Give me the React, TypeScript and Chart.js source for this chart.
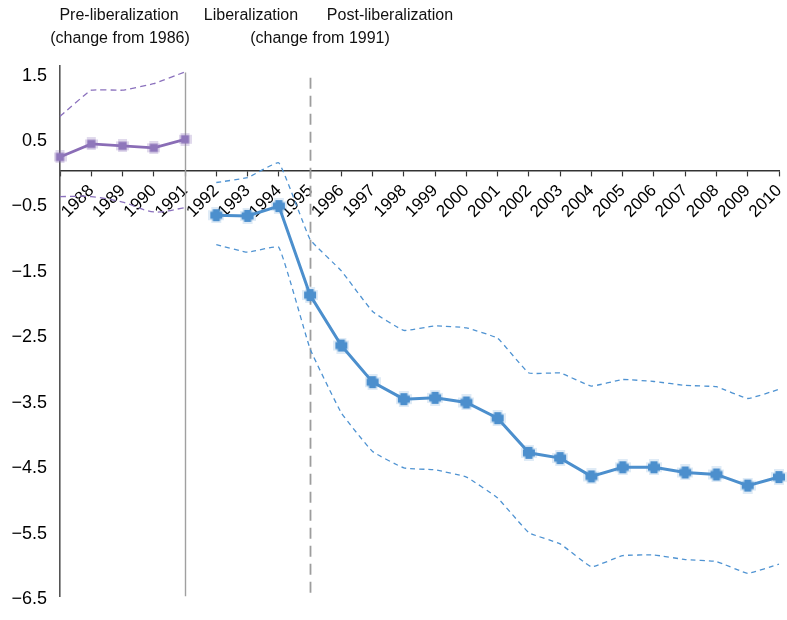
import React, { useEffect, useRef } from 'react';
import { Chart, registerables } from 'chart.js';

Chart.register(...registerables);

// ---------- data ----------
const YEARS = [
  '1987', '1988', '1989', '1990', '1991', '1992', '1993', '1994', '1995', '1996', '1997', '1998',
  '1999', '2000', '2001', '2002', '2003', '2004', '2005', '2006', '2007', '2008', '2009', '2010',
];

// Pre-liberalization (1987–1991), change from 1986
const PRE_EST = [0.21, 0.41, 0.38, 0.35, 0.48];
const PRE_UPPER = [0.83, 1.23, 1.23, 1.33, 1.51];
const PRE_LOWER = [-0.395, -0.395, -0.48, -0.63, -0.565];

// Liberalization & post-liberalization (1992–2010), change from 1991
const POST_EST = [
  -0.68, -0.69, -0.54, -1.9, -2.67, -3.23, -3.49, -3.47, -3.54, -3.78,
  -4.31, -4.39, -4.67, -4.53, -4.53, -4.61, -4.64, -4.81, -4.68,
];
const POST_UPPER = [
  -0.18, -0.105, 0.12, -1.05, -1.53, -2.15, -2.44, -2.37, -2.4, -2.56,
  -3.09, -3.09, -3.29, -3.19, -3.22, -3.28, -3.3, -3.48, -3.34,
];
const POST_LOWER = [
  -1.13, -1.245, -1.17, -2.72, -3.7, -4.29, -4.54, -4.57, -4.68, -5.0,
  -5.53, -5.7, -6.05, -5.88, -5.87, -5.94, -5.97, -6.15, -6.01,
];

const Y_TICKS = [1.5, 0.5, -0.5, -1.5, -2.5, -3.5, -4.5, -5.5, -6.5];

const PERIOD_LABELS = ['Pre-liberalization', 'Liberalization', 'Post-liberalization'];
const BASE_LABELS = ['(change from 1986)', '(change from 1991)'];

// period separators: [category, top value, dashed]
const SEPARATORS: [string, number, boolean][] = [
  ['1991', 1.5, false],
  ['1995', 1.42, true],
];

const PRE_START = 0;
const POST_START = 5;

// ---------- styling ----------
const FONT = '"Liberation Sans", Arial, Helvetica, sans-serif';
const BLUE = '#4c8fcd';
const BLUE_DASH = '#4f93d2';
const PURPLE = '#8a6db6';
const PURPLE_DASH = '#8b71bd';

function pad(arr: number[], start: number) {
  return YEARS.map((_, i) => (i >= start && i - start < arr.length ? arr[i - start] : null));
}

function makePlus(color: string, halo: string, size: number, arm: number) {
  const c = document.createElement('canvas');
  const s = size + 4;
  c.width = s;
  c.height = s;
  const g = c.getContext('2d')!;
  const m = s / 2;
  g.fillStyle = halo;
  g.fillRect(m - (arm + 3) / 2, 0, arm + 3, s);
  g.fillRect(0, m - (arm + 3) / 2, s, arm + 3);
  g.fillStyle = color;
  g.fillRect(m - arm / 2, m - size / 2, arm, size);
  g.fillRect(m - size / 2, m - arm / 2, size, arm);
  return c;
}

function makeSquare(color: string, halo: string, size: number) {
  const c = document.createElement('canvas');
  const s = size + 5;
  c.width = s;
  c.height = s;
  const g = c.getContext('2d')!;
  const m = s / 2;
  g.fillStyle = halo;
  g.fillRect(m - (size + 1) / 2, 0, size + 1, s);
  g.fillRect(0, m - (size + 1) / 2, s, size + 1);
  g.fillStyle = color;
  g.fillRect(m - size / 2, m - size / 2, size, size);
  return c;
}

const separatorPlugin = {
  id: 'separators',
  beforeDatasetsDraw(chart: any) {
    const { ctx, chartArea, scales } = chart;
    SEPARATORS.forEach(([cat, top, dashed]) => {
      const x = Math.round(scales.x.getPixelForValue(YEARS.indexOf(cat))) + 0.5;
      const y0 = scales.y.getPixelForValue(top);
      ctx.save();
      ctx.strokeStyle = dashed ? '#9d9d9d' : '#a0a0a0';
      ctx.lineWidth = dashed ? 1.8 : 1.4;
      ctx.setLineDash(dashed ? [11, 7] : []);
      ctx.beginPath();
      ctx.moveTo(x, y0);
      ctx.lineTo(x, chartArea.bottom);
      ctx.stroke();
      ctx.restore();
    });
  },
};

const headerPlugin = {
  id: 'header',
  afterDraw(chart: any) {
    const { ctx } = chart;
    ctx.save();
    ctx.font = `16px ${FONT}`;
    ctx.fillStyle = '#111';
    ctx.textAlign = 'center';
    ctx.textBaseline = 'middle';
    ctx.fillText(PERIOD_LABELS[0], 119, 16);
    ctx.fillText(PERIOD_LABELS[1], 251, 16);
    ctx.fillText(PERIOD_LABELS[2], 390, 16);
    ctx.fillText(BASE_LABELS[0], 120, 39);
    ctx.fillText(BASE_LABELS[1], 320, 39);
    ctx.restore();
  },
};

export default function App() {
  const ref = useRef<HTMLCanvasElement | null>(null);

  useEffect(() => {
    if (!ref.current) return;
    const bluePt = makePlus(BLUE, 'rgba(76,143,205,0.18)', 12, 7);
    const purplePt = makeSquare('#8f77bb', 'rgba(143,119,187,0.28)', 8);

    const chart = new Chart(ref.current, {
      type: 'line',
      data: {
        labels: YEARS,
        datasets: [
          {
            data: pad(PRE_UPPER, PRE_START),
            borderColor: PURPLE_DASH,
            borderWidth: 1.3,
            borderDash: [6, 4],
            pointRadius: 0,
            tension: 0.1,
          },
          {
            data: pad(PRE_LOWER, PRE_START),
            borderColor: PURPLE_DASH,
            borderWidth: 1.3,
            borderDash: [6, 4],
            pointRadius: 0,
            tension: 0.3,
          },
          {
            data: pad(PRE_EST, PRE_START),
            borderColor: PURPLE,
            borderWidth: 2.8,
            pointStyle: purplePt as any,
            pointRadius: 5,
            tension: 0,
          },
          {
            data: pad(POST_UPPER, POST_START),
            borderColor: BLUE_DASH,
            borderWidth: 1.3,
            borderDash: [5, 4],
            pointRadius: 0,
            tension: 0.1,
          },
          {
            data: pad(POST_LOWER, POST_START),
            borderColor: BLUE_DASH,
            borderWidth: 1.3,
            borderDash: [5, 4],
            pointRadius: 0,
            tension: 0.1,
          },
          {
            data: pad(POST_EST, POST_START),
            borderColor: BLUE,
            borderWidth: 3,
            pointStyle: bluePt as any,
            pointRadius: 5,
            tension: 0,
          },
        ],
      },
      options: {
        responsive: false,
        animation: false,
        devicePixelRatio: 1,
        layout: { padding: { top: 66, left: 0, right: 6, bottom: 13 } },
        plugins: {
          legend: { display: false },
          tooltip: { enabled: false },
          title: { display: false },
        },
        scales: {
          x: {
            type: 'category',
            position: { y: 0 } as any,
            offset: false,
            grid: {
              display: true,
              drawOnChartArea: false,
              drawTicks: true,
              tickLength: 5,
              tickColor: '#333',
              tickWidth: 1.2,
            },
            border: { display: true, color: '#333', width: 1.4 },
            ticks: {
              autoSkip: false,
              maxRotation: 45,
              minRotation: 45,
              padding: 5,
              color: '#000',
              font: { size: 17, family: FONT },
              callback: (_v: any, i: number) => (i === 0 ? '' : YEARS[i]),
            },
            afterFit: (s: any) => {
              s.paddingLeft = 0;
              s.paddingRight = 0;
            },
          },
          y: {
            type: 'linear',
            min: -6.5,
            max: 1.6,
            grid: { display: true, drawOnChartArea: false, drawTicks: false },
            border: { display: true, color: '#555', width: 1.6 },
            afterBuildTicks: (axis: any) => {
              axis.ticks = Y_TICKS.map((v) => ({ value: v }));
            },
            ticks: {
              padding: 13,
              labelOffset: 3,
              color: '#000',
              font: { size: 18, family: FONT },
              callback: (v: any) => (Number(v) < 0 ? '\u2212' : '') + Math.abs(Number(v)).toFixed(1),
            },
            afterFit: (s: any) => {
              s.width = 60;
            },
          },
        },
      },
      plugins: [separatorPlugin, headerPlugin],
    });
    return () => chart.destroy();
  }, []);

  return (
    <div style={{ position: 'absolute', left: 0, top: 0, width: 787, height: 620, background: '#fff' }}>
      <canvas ref={ref} width={787} height={620} style={{ width: 787, height: 620, display: 'block' }} />
    </div>
  );
}
